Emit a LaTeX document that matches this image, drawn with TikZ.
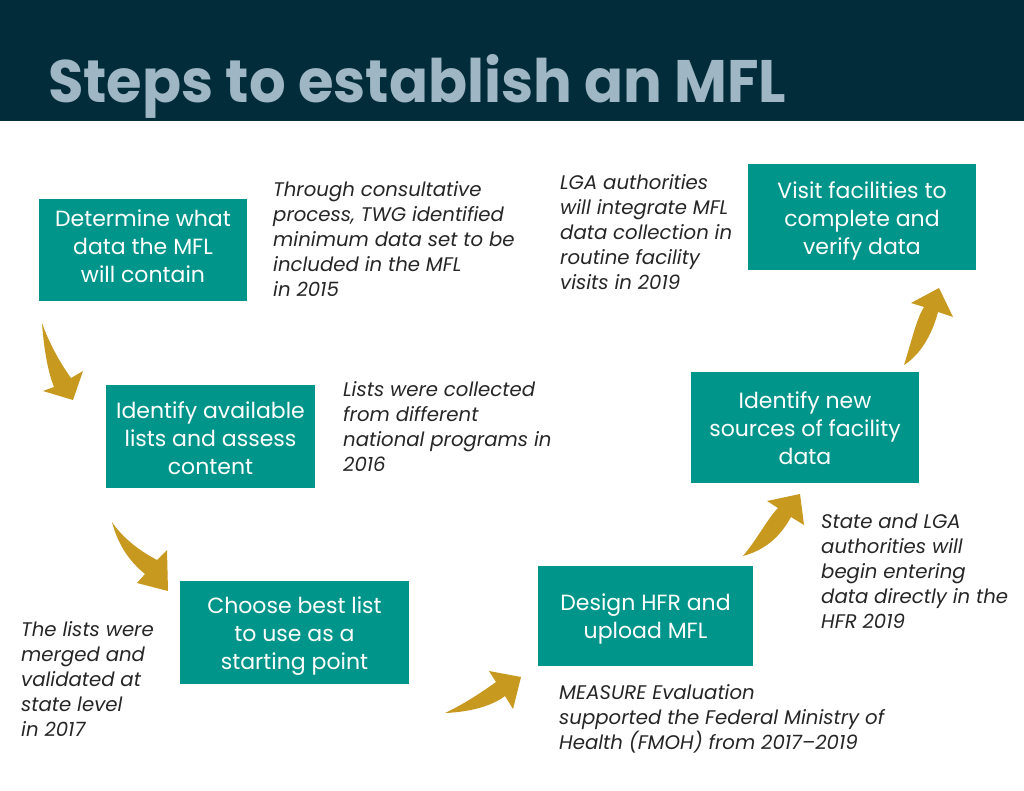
\documentclass[tikz,border=0pt]{standalone}
\usepackage{fontspec}
\setmainfont{Poppins}
\definecolor{barbg}{HTML}{032C3A}
\definecolor{titlefg}{HTML}{9FB7C4}
\definecolor{boxteal}{HTML}{00958A}
\definecolor{gold}{HTML}{C8991F}
\definecolor{notefg}{HTML}{262626}
\begin{document}
\begin{tikzpicture}[x=1pt,y=-1pt,
  stepbox/.style={fill=boxteal,draw=none,inner sep=0pt},
  boxtext/.style={text=white,align=center,inner sep=0pt,
    font=\fontsize{22}{28}\selectfont},
  note/.style={anchor=north west,align=left,inner sep=0pt,text=notefg,
    font=\fontsize{19.7}{25}\selectfont\itshape},
  curvarrow/.style={fill=gold,draw=none}]
\useasboundingbox (0,0) rectangle (1024,791);
\fill[white] (0,0) rectangle (1024,791);
\fill[barbg] (0,0) rectangle (1024,121);
\node[anchor=base west,inner sep=0pt,text=titlefg] (title) at (48,103)
  {\resizebox{738pt}{48pt}{\bfseries Steps to establish an MFL}};

\node[stepbox,minimum width=208pt,minimum height=102pt] (s1) at (143,250) {};
\node[boxtext] (t1) at (143,246) {Determine what\\data the MFL\\will contain};
\node[stepbox,minimum width=209pt,minimum height=103pt] (s2) at (210.5,436.5) {};
\node[boxtext] (t2) at (210.5,438) {Identify available\\lists and assess\\content};
\node[stepbox,minimum width=229pt,minimum height=103pt] (s3) at (294.5,632.5) {};
\node[boxtext] (t3) at (294.5,636.5) {Choose best list\\to use as a\\starting point};
\node[stepbox,minimum width=215pt,minimum height=100pt] (s4) at (645.5,616) {};
\node[boxtext] (t4) at (645.5,619) {Design HFR and\\upload MFL};
\node[stepbox,minimum width=228pt,minimum height=111pt] (s5) at (805,427.5) {};
\node[boxtext] (t5) at (805,428.5) {Identify new\\sources of facility\\data};
\node[stepbox,minimum width=228pt,minimum height=106pt] (s6) at (862,217) {};
\node[boxtext] (t6) at (862,221) {Visit facilities to\\complete and\\verify data};

\node[note] (n1) at (273,179) {\strut Through consultative\\process, TWG identified\\minimum data set to be\\included in the MFL\\in 2015};
\node[note] (n2) at (560,172) {\strut LGA authorities\\will integrate MFL\\data collection in\\routine facility\\visits in 2019};
\node[note] (n3) at (343,379) {\strut Lists were collected\\from different\\national programs in\\2016};
\node[note] (n4) at (821,511) {\strut State and LGA\\authorities will\\begin entering\\data directly in the\\HFR 2019};
\node[note] (n5) at (21,619) {\strut The lists were\\merged and\\validated at\\state level\\in 2017};
\node[note] (n6) at (559,682) {\strut MEASURE Evaluation\\supported the Federal Ministry of\\Health (FMOH) from 2017--2019};

% curved arrows
\fill[curvarrow] (42,323) .. controls (44,350) and (48,372) .. (54,387)
  -- (43,391) -- (73,400) -- (83,371) -- (71,378)
  .. controls (58,360) and (48,340) .. (42,323) -- cycle;
\fill[curvarrow] (112,522) .. controls (118,545) and (130,562) .. (145,574)
  -- (137,583) -- (168,591) -- (167,550) -- (157,560)
  .. controls (138,550) and (122,537) .. (112,522) -- cycle;
\fill[curvarrow] (445,713) .. controls (470,712) and (492,706) .. (505,696)
  -- (513,709) -- (521,677) -- (489,671) -- (496,682)
  .. controls (478,695) and (460,706) .. (445,713) -- cycle;
\fill[curvarrow] (743,556) .. controls (758,538) and (768,518) .. (778,508)
  -- (767,501) -- (800,494) -- (804,525) -- (791,517)
  .. controls (780,537) and (765,550) .. (743,556) -- cycle;
\fill[curvarrow] (904,365) .. controls (912,340) and (916,320) .. (924,307)
  -- (911,303) -- (939,288) -- (953,317) -- (938,312)
  .. controls (932,335) and (920,355) .. (904,365) -- cycle;
\end{tikzpicture}
\end{document}
